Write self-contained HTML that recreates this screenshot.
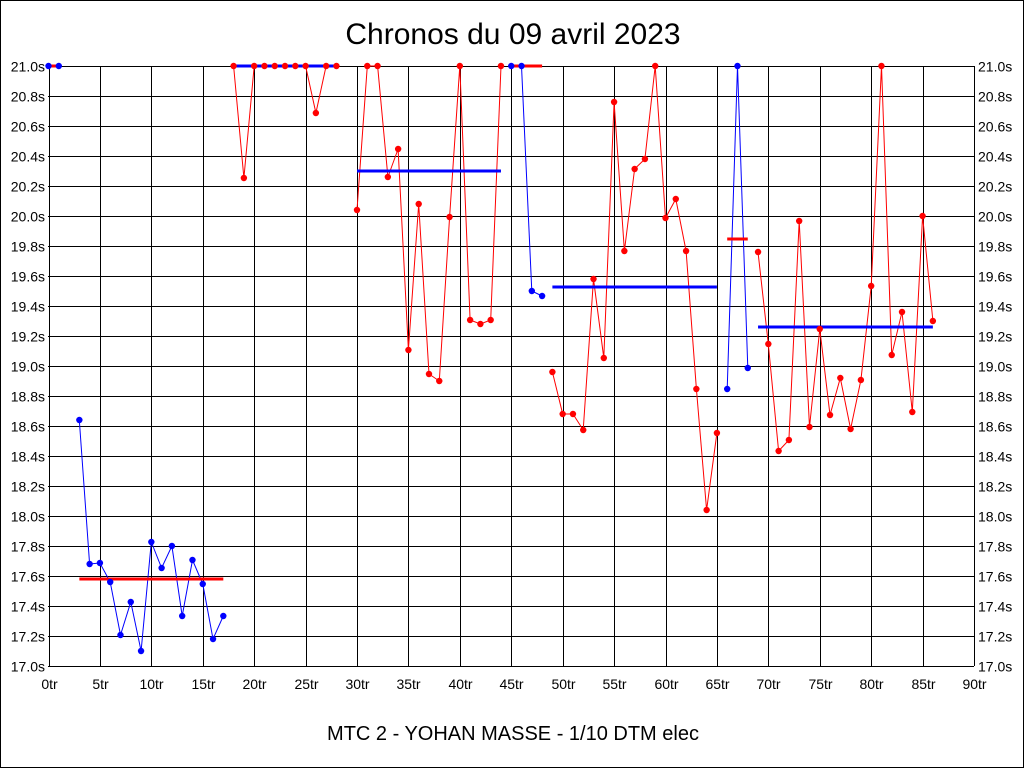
<!DOCTYPE html>
<html><head><meta charset="utf-8"><style>
html,body{margin:0;padding:0;background:#fff}
svg{display:block}
text{font-family:"Liberation Sans",sans-serif;fill:#000}
</style></head><body>
<svg id="s" width="1024" height="768" xmlns="http://www.w3.org/2000/svg">
<rect x="0.5" y="0.5" width="1023" height="767" fill="#fff" stroke="#000"/>
<text x="513" y="44" font-size="30" text-anchor="middle">Chronos du 09 avril 2023</text>
<text x="513" y="740" font-size="20" text-anchor="middle">MTC 2 - YOHAN MASSE - 1/10 DTM elec</text>
<g id="g"></g>
</svg>
<script>
var g=document.getElementById('g'),h='';
function X(l){return 48.5+l*925.5/90;}
var T=66,B=666;
for(var i=0;i<=20;i++){var y=T+i*30+0.5;h+='<line x1="48" x2="974" y1="'+y+'" y2="'+y+'" stroke="#000"/>';
var v=(21-i*0.2).toFixed(1)+'s';h+='<text x="45" y="'+(y+5)+'" font-size="14" text-anchor="end">'+v+'</text><text x="978" y="'+(y+5)+'" font-size="14">'+v+'</text>';}
for(var l=0;l<=90;l+=5){var x=Math.round(X(l))+0.5;h+='<line x1="'+x+'" x2="'+x+'" y1="66" y2="666" stroke="#000"/>';h+='<text x="'+x+'" y="689" font-size="14" text-anchor="middle">'+l+'tr</text>';}
var segs=[
{c:'blue',m:'red',s:0,v:[66,66],my:66},
{c:'blue',m:'red',s:3,v:[420,564,563,582,635,602,651,542,568,546,616,560,584,639,616],my:579},
{c:'red',m:'blue',s:18,v:[66,178,66,66,66,66,66,66,113,66,66],my:66},
{c:'red',m:'blue',s:30,v:[210,66,66,177,149,350,204,374,381,217,66,320,324,320,66],my:171},
{c:'blue',m:'red',s:45,v:[66,66,291,296],my:66},
{c:'red',m:'blue',s:49,v:[372,414,414,430,279,358,102,251,169,159,66,218,199,251,389,510,433],my:287},
{c:'blue',m:'red',s:66,v:[389,66,368],my:239},
{c:'red',m:'blue',s:69,v:[252,344,451,440,221,427,329,415,378,429,380,286,66,355,312,412,216,321],my:327}];
segs.forEach(function(sg){var p=sg.v.map(function(y,i){return X(sg.s+i).toFixed(1)+','+y;}).join(' ');
h+='<polyline points="'+p+'" fill="none" stroke="'+sg.c+'" stroke-width="1"/>';
h+='<line x1="'+X(sg.s)+'" x2="'+X(sg.s+sg.v.length-1)+'" y1="'+sg.my+'" y2="'+sg.my+'" stroke="'+sg.m+'" stroke-width="3"/>';
sg.v.forEach(function(y,i){h+='<circle cx="'+X(sg.s+i)+'" cy="'+y+'" r="3.2" fill="'+sg.c+'"/>';});});
g.innerHTML=h;
</script>
</body></html>
